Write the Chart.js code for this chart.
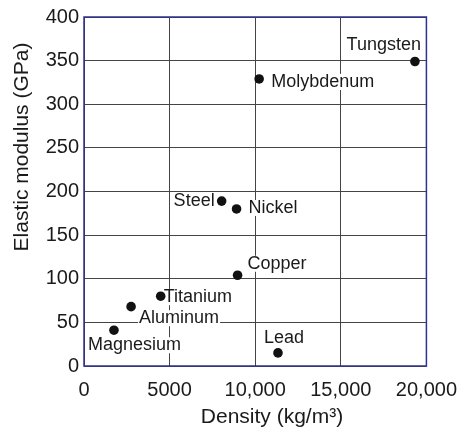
<!DOCTYPE html>
<html>
<head>
<meta charset="utf-8">
<script src="https://cdn.jsdelivr.net/npm/chart.js@4/dist/chart.umd.min.js"></script>
<style>
  html, body { margin: 0; padding: 0; background: #fff; }
  #wrap { width: 469px; height: 433px; }
</style>
</head>
<body>
<div id="wrap"><canvas id="chart" width="469" height="433"></canvas></div>
<script>
// Elastic modulus vs density of metals
const materials = ['Magnesium', 'Aluminum', 'Titanium', 'Steel', 'Nickel', 'Copper', 'Molybdenum', 'Lead', 'Tungsten'];
const density = [1750, 2750, 4480, 8040, 8910, 8970, 10230, 11330, 19330];   // kg/m3
const modulus = [41, 68, 80, 189, 180, 104, 329, 15, 349];                  // GPa
const xTickLabels = ['0', '5000', '10,000', '15,000', '20,000'];
const xTitle = 'Density (kg/m³)';
const yTitle = 'Elastic modulus (GPa)';

const FONT = "'Liberation Sans', Arial, Helvetica, sans-serif";
const INK = '#1a1a1a';
const FRAME = '#2e3192';

// where each name sits next to its dot: [dx, dy, align]
const labelOffsets = {
  Magnesium: [-26, 15, 'left'],
  Aluminum: [8, 11.5, 'left'],
  Titanium: [3, 1, 'left'],
  Steel: [-7, 0, 'right'],
  Nickel: [12, -1, 'left'],
  Copper: [10, -11.5, 'left'],
  Molybdenum: [12, 3, 'left'],
  Lead: [-14, -15, 'left'],
  Tungsten: [6, -16, 'right']
};

const pointLabels = {
  id: 'pointLabels',
  afterDatasetsDraw(chart) {
    const ctx = chart.ctx;
    const meta = chart.getDatasetMeta(0);
    ctx.save();
    ctx.font = '18px ' + FONT;
    ctx.textBaseline = 'middle';
    meta.data.forEach((pt, i) => {
      const name = materials[i];
      const off = labelOffsets[name];
      const tx = pt.x + off[0];
      const ty = pt.y + off[1];
      const w = ctx.measureText(name).width;
      const left = off[2] === 'right' ? tx - w : tx;
      // white box hides the grid behind the text
      ctx.fillStyle = '#fff';
      ctx.fillRect(left - 1, ty - 8, w + 2, 16);
      ctx.fillStyle = INK;
      ctx.textAlign = off[2];
      ctx.fillText(name, tx, ty);
    });
    // dots on top
    meta.data.forEach(pt => {
      ctx.beginPath();
      ctx.arc(pt.x, pt.y, 4.8, 0, Math.PI * 2);
      ctx.fillStyle = '#111';
      ctx.fill();
    });
    ctx.restore();
  },
  afterDraw(chart) {
    const a = chart.chartArea;
    const ctx = chart.ctx;
    ctx.save();
    ctx.strokeStyle = FRAME;
    ctx.lineWidth = 1.5;
    ctx.strokeRect(a.left, a.top, a.right - a.left, a.bottom - a.top);

    // axis titles (placed a bit off-centre like the original)
    ctx.fillStyle = INK;
    ctx.font = '21px ' + FONT;
    ctx.textAlign = 'center';
    ctx.textBaseline = 'middle';
    ctx.fillText(xTitle, 272, 417);
    ctx.translate(22, 147);
    ctx.rotate(-Math.PI / 2);
    ctx.fillText(yTitle, 0, 0);
    ctx.restore();
  }
};

new Chart(document.getElementById('chart'), {
  type: 'scatter',
  data: {
    datasets: [{
      data: density.map((d, i) => ({ x: d, y: modulus[i] })),
      pointRadius: 0,
      pointHoverRadius: 0,
      backgroundColor: '#111'
    }]
  },
  options: {
    responsive: false,
    animation: false,
    events: [],
    layout: { padding: { top: 15, right: 35, left: 0, bottom: 0 } },
    plugins: { legend: { display: false }, tooltip: { enabled: false } },
    scales: {
      x: {
        type: 'linear',
        min: 0, max: 20000,
        afterFit(s) { s.height = 67; },
        ticks: {
          stepSize: 5000,
          color: INK,
          padding: 12,
          maxRotation: 0,
          font: { family: FONT, size: 20 },
          callback: (v, i) => xTickLabels[i]
        },
        grid: { color: '#444', lineWidth: 1, drawTicks: false },
        border: { display: false }
      },
      y: {
        min: 0, max: 400,
        afterFit(s) { s.width = 84; },
        ticks: {
          stepSize: 50,
          color: INK,
          padding: 5,
          font: { family: FONT, size: 20 }
        },
        grid: { color: '#444', lineWidth: 1, drawTicks: false },
        border: { display: false }
      }
    }
  },
  plugins: [pointLabels]
});
</script>
</body>
</html>
